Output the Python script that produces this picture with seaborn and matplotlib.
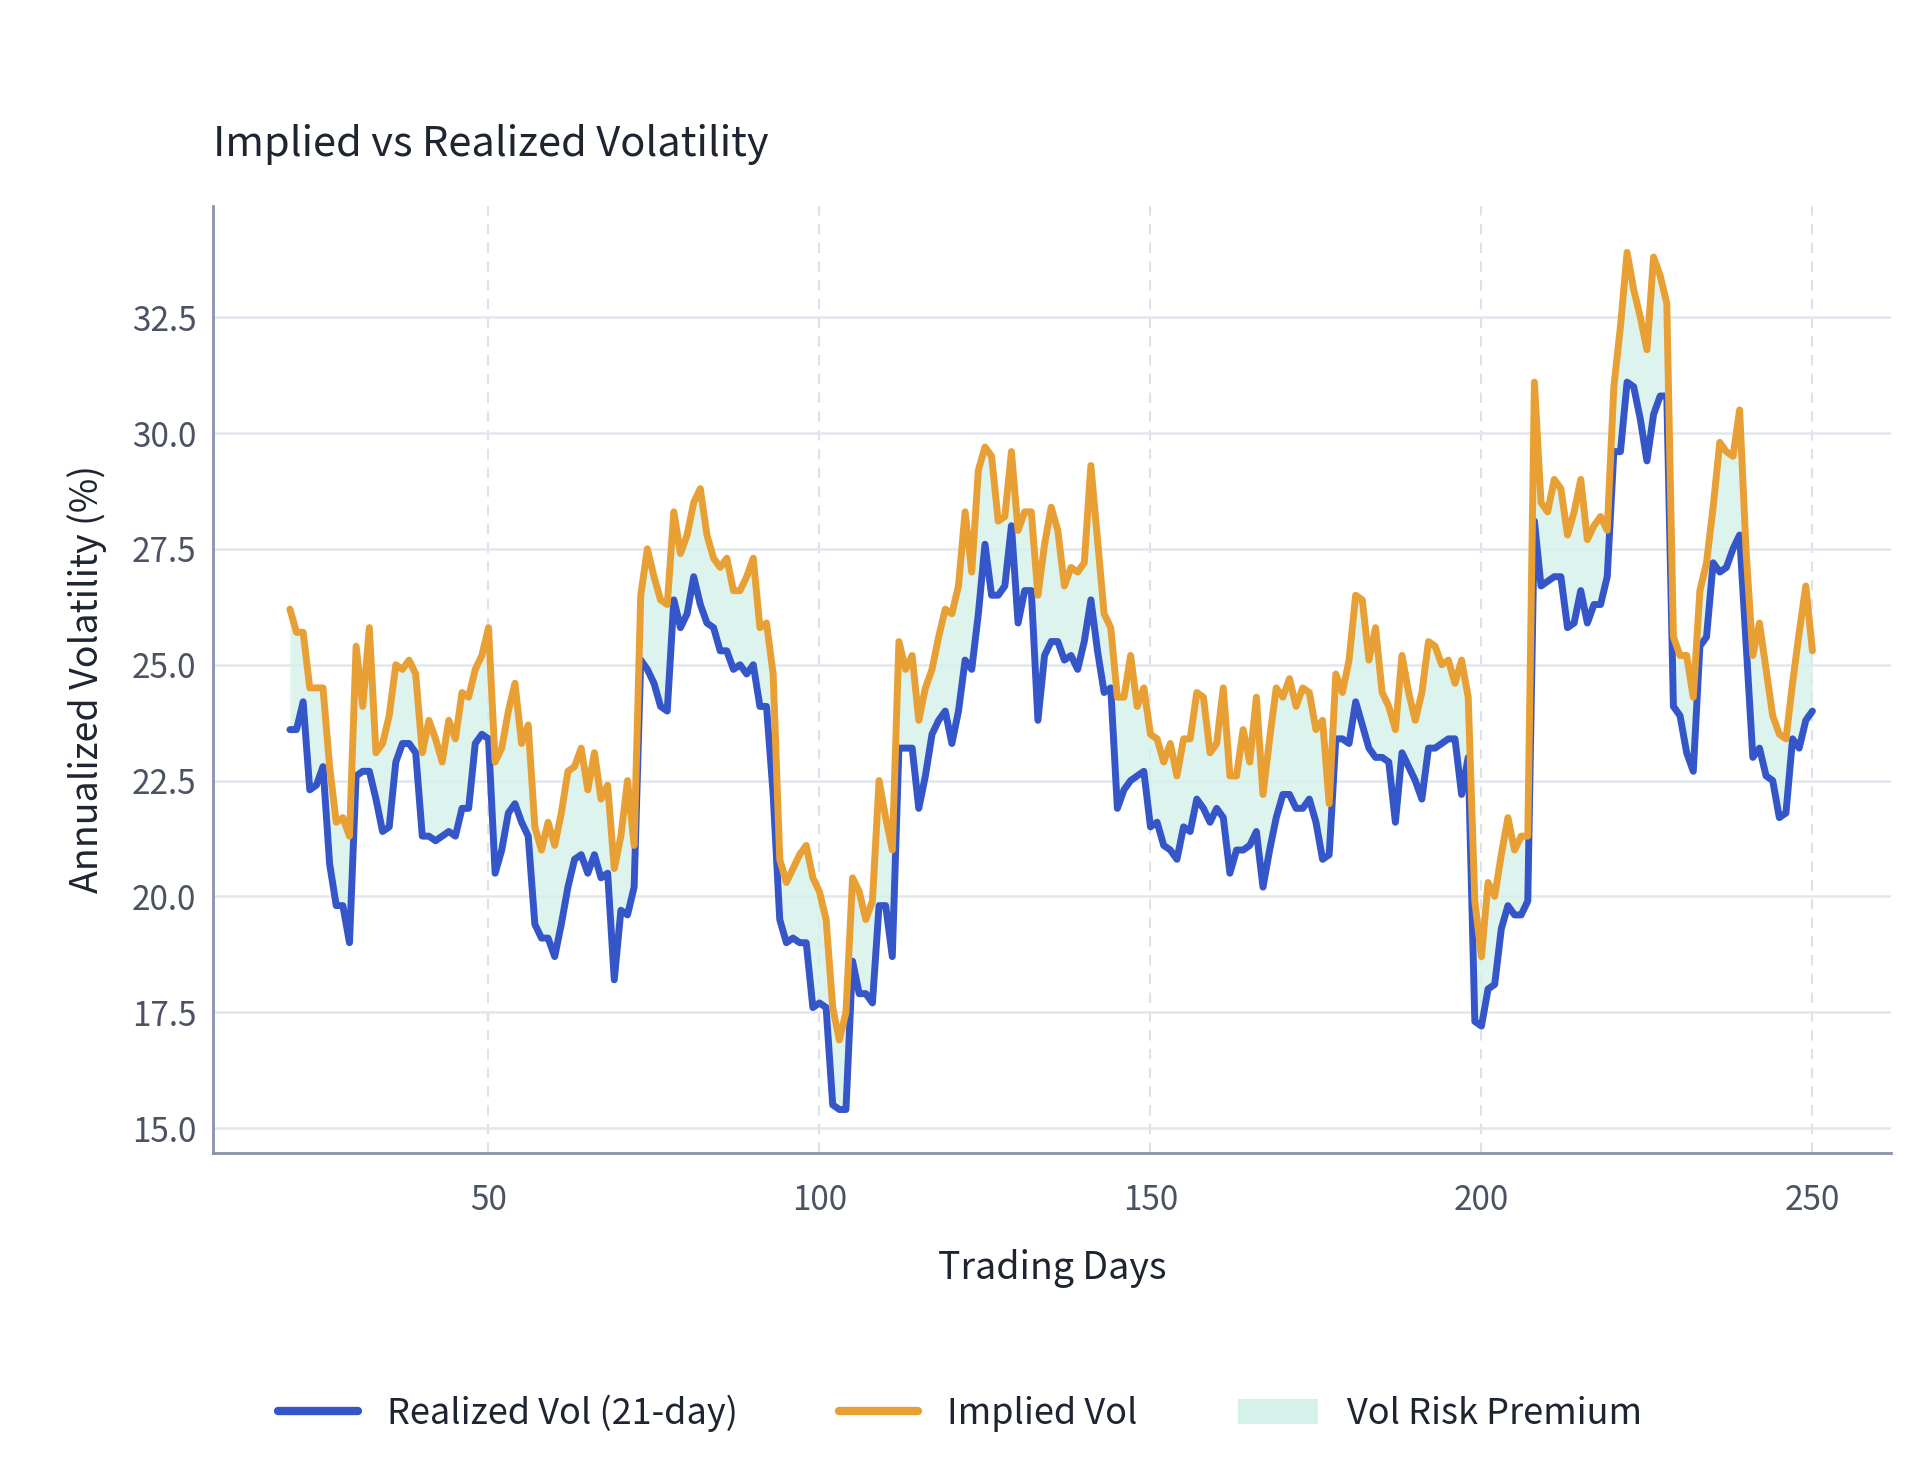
import numpy as np
import pandas as pd
import matplotlib
matplotlib.use('Agg')
import matplotlib.pyplot as plt
import seaborn as sns
from matplotlib.patches import Patch
from matplotlib.lines import Line2D

days = list(range(20, 251))

realized = [23.6, 23.6, 24.2, 22.3, 22.4, 22.8, 20.7, 19.8, 19.8, 19.0,
            22.6, 22.7, 22.7, 22.1, 21.4, 21.5, 22.9, 23.3, 23.3, 23.1,
            21.3, 21.3, 21.2, 21.3, 21.4, 21.3, 21.9, 21.9, 23.3, 23.5,
            23.4, 20.5, 21.0, 21.8, 22.0, 21.6, 21.3, 19.4, 19.1, 19.1,
            18.7, 19.4, 20.2, 20.8, 20.9, 20.5, 20.9, 20.4, 20.5, 18.2,
            19.7, 19.6, 20.2, 25.1, 24.9, 24.6, 24.1, 24.0, 26.4, 25.8,
            26.1, 26.9, 26.3, 25.9, 25.8, 25.3, 25.3, 24.9, 25.0, 24.8,
            25.0, 24.1, 24.1, 22.2, 19.5, 19.0, 19.1, 19.0, 19.0, 17.6,
            17.7, 17.6, 15.5, 15.4, 15.4, 18.6, 17.9, 17.9, 17.7, 19.8,
            19.8, 18.7, 23.2, 23.2, 23.2, 21.9, 22.6, 23.5, 23.8, 24.0,
            23.3, 24.0, 25.1, 24.9, 26.1, 27.6, 26.5, 26.5, 26.7, 28.0,
            25.9, 26.6, 26.6, 23.8, 25.2, 25.5, 25.5, 25.1, 25.2, 24.9,
            25.5, 26.4, 25.3, 24.4, 24.5, 21.9, 22.3, 22.5, 22.6, 22.7,
            21.5, 21.6, 21.1, 21.0, 20.8, 21.5, 21.4, 22.1, 21.9, 21.6,
            21.9, 21.7, 20.5, 21.0, 21.0, 21.1, 21.4, 20.2, 21.0, 21.7,
            22.2, 22.2, 21.9, 21.9, 22.1, 21.6, 20.8, 20.9, 23.4, 23.4,
            23.3, 24.2, 23.7, 23.2, 23.0, 23.0, 22.9, 21.6, 23.1, 22.8,
            22.5, 22.1, 23.2, 23.2, 23.3, 23.4, 23.4, 22.2, 23.0, 17.3,
            17.2, 18.0, 18.1, 19.3, 19.8, 19.6, 19.6, 19.9, 28.1, 26.7,
            26.8, 26.9, 26.9, 25.8, 25.9, 26.6, 25.9, 26.3, 26.3, 26.9,
            29.6, 29.6, 31.1, 31.0, 30.3, 29.4, 30.4, 30.8, 30.8, 24.1,
            23.9, 23.1, 22.7, 25.4, 25.6, 27.2, 27.0, 27.1, 27.5, 27.8,
            25.4, 23.0, 23.2, 22.6, 22.5, 21.7, 21.8, 23.4, 23.2, 23.8,
            24.0]

implied = [26.2, 25.7, 25.7, 24.5, 24.5, 24.5, 22.8, 21.6, 21.7, 21.3,
           25.4, 24.1, 25.8, 23.1, 23.3, 23.9, 25.0, 24.9, 25.1, 24.8,
           23.1, 23.8, 23.4, 22.9, 23.8, 23.4, 24.4, 24.3, 24.9, 25.2,
           25.8, 22.9, 23.2, 24.0, 24.6, 23.3, 23.7, 21.5, 21.0, 21.6,
           21.1, 21.8, 22.7, 22.8, 23.2, 22.3, 23.1, 22.1, 22.4, 20.6,
           21.3, 22.5, 21.1, 26.5, 27.5, 26.9, 26.4, 26.3, 28.3, 27.4,
           27.8, 28.5, 28.8, 27.8, 27.3, 27.1, 27.3, 26.6, 26.6, 26.9,
           27.3, 25.8, 25.9, 24.8, 20.8, 20.3, 20.6, 20.9, 21.1, 20.4,
           20.1, 19.5, 17.6, 16.9, 17.5, 20.4, 20.1, 19.5, 19.9, 22.5,
           21.7, 21.0, 25.5, 24.9, 25.2, 23.8, 24.5, 24.9, 25.6, 26.2,
           26.1, 26.7, 28.3, 27.0, 29.2, 29.7, 29.5, 28.1, 28.2, 29.6,
           27.9, 28.3, 28.3, 26.5, 27.6, 28.4, 27.9, 26.7, 27.1, 27.0,
           27.2, 29.3, 27.7, 26.1, 25.8, 24.3, 24.3, 25.2, 24.1, 24.5,
           23.5, 23.4, 22.9, 23.3, 22.6, 23.4, 23.4, 24.4, 24.3, 23.1,
           23.3, 24.5, 22.6, 22.6, 23.6, 22.9, 24.3, 22.2, 23.4, 24.5,
           24.3, 24.7, 24.1, 24.5, 24.4, 23.6, 23.8, 22.0, 24.8, 24.4,
           25.1, 26.5, 26.4, 25.1, 25.8, 24.4, 24.1, 23.6, 25.2, 24.4,
           23.8, 24.4, 25.5, 25.4, 25.0, 25.1, 24.6, 25.1, 24.3, 19.9,
           18.7, 20.3, 20.0, 20.9, 21.7, 21.0, 21.3, 21.3, 31.1, 28.5,
           28.3, 29.0, 28.8, 27.8, 28.3, 29.0, 27.7, 28.0, 28.2, 27.9,
           31.0, 32.3, 33.9, 33.1, 32.5, 31.8, 33.8, 33.4, 32.8, 25.6,
           25.2, 25.2, 24.3, 26.6, 27.2, 28.4, 29.8, 29.6, 29.5, 30.5,
           27.4, 25.2, 25.9, 24.9, 23.9, 23.5, 23.4, 24.6, 25.7, 26.7,
           25.3]

df = pd.DataFrame({'day': days, 'realized': realized, 'implied': implied})

blue = '#3556c8'
orange = '#e8a035'
fill_c = '#d4f1ea'

sns.set_theme(style='white')
plt.rcParams['font.family'] = ['Noto Sans CJK KR', 'DejaVu Sans']

fig = plt.figure(figsize=(19.2, 14.72), dpi=100)
ax = fig.add_axes([0.111, 0.217, 0.874, 0.643])

ax.fill_between(df['day'], df['realized'], df['implied'], color=fill_c, alpha=0.8, lw=0)
sns.lineplot(data=df, x='day', y='realized', ax=ax, color=blue, lw=5)
sns.lineplot(data=df, x='day', y='implied', ax=ax, color=orange, lw=5)

ax.set_xlim(8.4, 261.9)
ax.set_ylim(14.47, 34.9)
ax.set_yticks([15, 17.5, 20, 22.5, 25, 27.5, 30, 32.5])
ax.set_xticks([50, 100, 150, 200, 250])
ax.yaxis.grid(True, color='#e3e6ec', lw=1.8)
ax.xaxis.grid(True, color='#dde2e8', lw=1.5, ls=(0, (5, 4)))
ax.set_axisbelow(True)
for s in ['top', 'right']:
    ax.spines[s].set_visible(False)
for s in ['left', 'bottom']:
    ax.spines[s].set_color('#8a94a8')
    ax.spines[s].set_linewidth(2)
ax.tick_params(axis='both', labelsize=24, colors='#4a5263', length=0, pad=12)
ax.tick_params(axis='x', pad=22)

ax.set_xlabel('Trading Days', fontsize=27, color='#1e2430', labelpad=22)
ax.set_ylabel('Annualized Volatility (%)', fontsize=27, color='#1e2430', labelpad=18)
ax.set_title('Implied vs Realized Volatility', loc='left', fontsize=30, color='#1e2430', pad=36)

handles = [Line2D([0], [0], color=blue, lw=6),
           Line2D([0], [0], color=orange, lw=6),
           Patch(facecolor=fill_c, edgecolor='none')]
fig.legend(handles, ['Realized Vol (21-day)', 'Implied Vol', 'Vol Risk Premium'],
           loc='center', bbox_to_anchor=(0.5, 0.04), ncol=3, frameon=False,
           fontsize=26, handlelength=2.2, columnspacing=2.8, labelcolor='#1e2430')

fig.savefig('out.png', dpi=100, facecolor='white')
